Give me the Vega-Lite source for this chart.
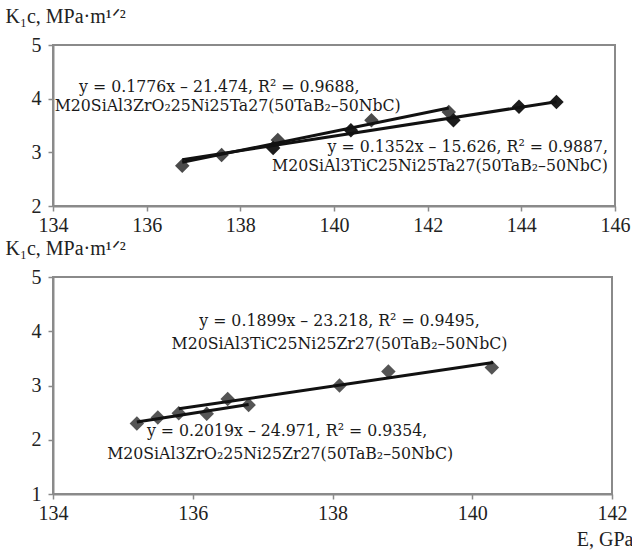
{
  "$schema": "https://vega.github.io/schema/vega-lite/v6.json",
  "background": "white",
  "padding": {"left": 4, "top": 5, "right": 0, "bottom": 0},
  "bounds": "flush",
  "spacing": 71,
  "config": {
    "view": {"stroke": "#8a8a8a", "strokeWidth": 2},
    "axis": {
      "grid": false,
      "format": "d",
      "labelFlush": false,
      "labelOverlap": false,
      "domainColor": "#8a8a8a",
      "domainWidth": 2,
      "tickColor": "#8a8a8a",
      "tickWidth": 1.5,
      "tickSize": 5,
      "labelFont": "Liberation Serif",
      "labelFontSize": 20,
      "labelColor": "#222222",
      "titleFont": "Liberation Serif",
      "titleFontSize": 20,
      "titleFontWeight": "normal",
      "titleColor": "#222222"
    }
  },
  "datasets": {
    "pts": [
      {"panel": "top", "series": "ZrO2", "E": 136.76, "K": 2.75},
      {"panel": "top", "series": "ZrO2", "E": 137.6, "K": 2.95},
      {"panel": "top", "series": "ZrO2", "E": 138.8, "K": 3.23},
      {"panel": "top", "series": "ZrO2", "E": 140.8, "K": 3.6},
      {"panel": "top", "series": "ZrO2", "E": 142.45, "K": 3.75},
      {"panel": "top", "series": "TiC", "E": 138.7, "K": 3.08},
      {"panel": "top", "series": "TiC", "E": 140.36, "K": 3.41},
      {"panel": "top", "series": "TiC", "E": 142.55, "K": 3.6},
      {"panel": "top", "series": "TiC", "E": 143.95, "K": 3.85},
      {"panel": "top", "series": "TiC", "E": 144.75, "K": 3.94},
      {"panel": "bottom", "series": "ZrO2", "E": 135.2, "K": 2.3},
      {"panel": "bottom", "series": "ZrO2", "E": 135.5, "K": 2.41},
      {"panel": "bottom", "series": "ZrO2", "E": 136.2, "K": 2.48},
      {"panel": "bottom", "series": "ZrO2", "E": 136.8, "K": 2.64},
      {"panel": "bottom", "series": "TiC", "E": 135.8, "K": 2.49},
      {"panel": "bottom", "series": "TiC", "E": 136.5, "K": 2.75},
      {"panel": "bottom", "series": "TiC", "E": 138.1, "K": 3.0},
      {"panel": "bottom", "series": "TiC", "E": 138.8, "K": 3.26},
      {"panel": "bottom", "series": "TiC", "E": 140.28, "K": 3.33}
    ],
    "fits": [
      {"panel": "top", "series": "ZrO2", "E": 136.76, "K": 2.815},
      {"panel": "top", "series": "ZrO2", "E": 142.45, "K": 3.825},
      {"panel": "top", "series": "TiC", "E": 136.76, "K": 2.864},
      {"panel": "top", "series": "TiC", "E": 144.75, "K": 3.944},
      {"panel": "bottom", "series": "ZrO2", "E": 135.2, "K": 2.326},
      {"panel": "bottom", "series": "ZrO2", "E": 136.8, "K": 2.649},
      {"panel": "bottom", "series": "TiC", "E": 135.8, "K": 2.57},
      {"panel": "bottom", "series": "TiC", "E": 140.3, "K": 3.425}
    ],
    "notes": [
      {"panel": "top", "anchor": "center", "E": 137.55, "K": 4.22, "text": "y = 0.1776x – 21.474, R² = 0.9688,"},
      {"panel": "top", "anchor": "center", "E": 137.73, "K": 3.86, "text": "M20SiAl3ZrO₂25Ni25Ta27(50TaB₂–50NbC)"},
      {"panel": "top", "anchor": "right", "E": 145.85, "K": 3.1, "text": "y = 0.1352x – 15.626, R² = 0.9887,"},
      {"panel": "top", "anchor": "right", "E": 145.85, "K": 2.74, "text": "M20SiAl3TiC25Ni25Ta27(50TaB₂–50NbC)"},
      {"panel": "bottom", "anchor": "center", "E": 138.1, "K": 4.18, "text": "y = 0.1899x – 23.218, R² = 0.9495,"},
      {"panel": "bottom", "anchor": "center", "E": 138.1, "K": 3.76, "text": "M20SiAl3TiC25Ni25Zr27(50TaB₂–50NbC)"},
      {"panel": "bottom", "anchor": "center", "E": 137.35, "K": 2.16, "text": "y = 0.2019x – 24.971, R² = 0.9354,"},
      {"panel": "bottom", "anchor": "center", "E": 137.25, "K": 1.73, "text": "M20SiAl3ZrO₂25Ni25Zr27(50TaB₂–50NbC)"}
    ]
  },
  "vconcat": [
    {
      "width": 562,
      "height": 161,
      "layer": [
        {
          "data": {"name": "pts"},
          "transform": [{"filter": "datum.panel === 'top'"}],
          "mark": {"type": "point", "shape": "diamond", "filled": true, "size": 210, "opacity": 1},
          "encoding": {
            "x": {"field": "E", "type": "quantitative", "scale": {"domain": [134, 146], "nice": false, "zero": false},
                  "axis": {"values": [134, 136, 138, 140, 142, 144, 146], "title": null, "labelPadding": 4}},
            "y": {"field": "K", "type": "quantitative", "scale": {"domain": [2, 5], "nice": false, "zero": false},
                  "axis": {"values": [2, 3, 4, 5], "title": "K₁c, MPa·m¹ᐟ²", "titleAngle": 0, "titleAlign": "left",
                           "titleBaseline": "alphabetic", "titleX": -48, "titleY": -23, "labelPadding": 7}},
            "color": {"field": "series", "type": "nominal", "legend": null,
                      "scale": {"domain": ["ZrO2", "TiC"], "range": ["#4a4a4a", "#1c1c1c"]}}
          }
        },
        {
          "data": {"name": "fits"},
          "transform": [{"filter": "datum.panel === 'top'"}],
          "mark": {"type": "line", "color": "#111111", "strokeWidth": 3},
          "encoding": {
            "x": {"field": "E", "type": "quantitative"},
            "y": {"field": "K", "type": "quantitative"},
            "detail": {"field": "series"}
          }
        },
        {
          "data": {"name": "notes"},
          "transform": [{"filter": "datum.panel === 'top' && datum.anchor === 'center'"}],
          "mark": {"type": "text", "align": "center", "baseline": "middle", "font": "DejaVu Serif Condensed", "fontSize": 17.5, "color": "#1a1a1a"},
          "encoding": {
            "x": {"field": "E", "type": "quantitative"},
            "y": {"field": "K", "type": "quantitative"},
            "text": {"field": "text"}
          }
        },
        {
          "data": {"name": "notes"},
          "transform": [{"filter": "datum.panel === 'top' && datum.anchor === 'right'"}],
          "mark": {"type": "text", "align": "right", "baseline": "middle", "font": "DejaVu Serif Condensed", "fontSize": 17.5, "color": "#1a1a1a"},
          "encoding": {
            "x": {"field": "E", "type": "quantitative"},
            "y": {"field": "K", "type": "quantitative"},
            "text": {"field": "text"}
          }
        }
      ]
    },
    {
      "width": 559,
      "height": 217,
      "layer": [
        {
          "data": {"name": "pts"},
          "transform": [{"filter": "datum.panel === 'bottom'"}],
          "mark": {"type": "point", "shape": "diamond", "filled": true, "size": 210, "opacity": 1, "color": "#555555"},
          "encoding": {
            "x": {"field": "E", "type": "quantitative", "scale": {"domain": [134, 142], "nice": false, "zero": false},
                  "axis": {"values": [134, 136, 138, 140, 142], "title": "E, GPa", "titleAlign": "right", "titleX": 580,
                           "titleY": 51, "titleBaseline": "alphabetic", "labelPadding": 4}},
            "y": {"field": "K", "type": "quantitative", "scale": {"domain": [1, 5], "nice": false, "zero": false},
                  "axis": {"values": [1, 2, 3, 4, 5], "title": "K₁c, MPa·m¹ᐟ²", "titleAngle": 0, "titleAlign": "left",
                           "titleBaseline": "alphabetic", "titleX": -48, "titleY": -23, "labelPadding": 7}}
          }
        },
        {
          "data": {"name": "fits"},
          "transform": [{"filter": "datum.panel === 'bottom'"}],
          "mark": {"type": "line", "color": "#111111", "strokeWidth": 3},
          "encoding": {
            "x": {"field": "E", "type": "quantitative"},
            "y": {"field": "K", "type": "quantitative"},
            "detail": {"field": "series"}
          }
        },
        {
          "data": {"name": "notes"},
          "transform": [{"filter": "datum.panel === 'bottom'"}],
          "mark": {"type": "text", "align": "center", "baseline": "middle", "font": "DejaVu Serif Condensed", "fontSize": 17.5, "color": "#1a1a1a"},
          "encoding": {
            "x": {"field": "E", "type": "quantitative"},
            "y": {"field": "K", "type": "quantitative"},
            "text": {"field": "text"}
          }
        }
      ]
    }
  ]
}
